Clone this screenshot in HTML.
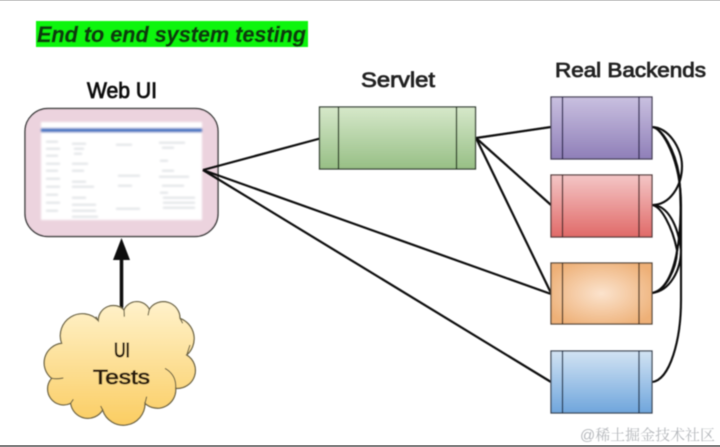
<!DOCTYPE html>
<html>
<head>
<meta charset="utf-8">
<style>
html,body{margin:0;padding:0;background:#fff;width:720px;height:447px;overflow:hidden}
svg{display:block}
text{font-family:"Liberation Sans","Noto Sans CJK SC",sans-serif}
</style>
</head>
<body>
<svg width="720" height="447" viewBox="0 0 720 447" xmlns="http://www.w3.org/2000/svg">
<defs>
<filter id="b1" x="-5%" y="-5%" width="110%" height="110%"><feGaussianBlur stdDeviation="0.55"/></filter>
<filter id="b2" x="-5%" y="-20%" width="110%" height="140%"><feGaussianBlur stdDeviation="0.6"/></filter>
<filter id="b3" x="-5%" y="-5%" width="110%" height="110%"><feGaussianBlur stdDeviation="1"/></filter>
<linearGradient id="gG" x1="0" y1="0" x2="0" y2="1"><stop offset="0" stop-color="#d6e8ca"/><stop offset="1" stop-color="#97bf85"/></linearGradient>
<linearGradient id="gP" x1="0" y1="0" x2="0" y2="1"><stop offset="0" stop-color="#c9c0e0"/><stop offset="1" stop-color="#8f7fb8"/></linearGradient>
<linearGradient id="gR" x1="0" y1="0" x2="0" y2="1"><stop offset="0" stop-color="#f4c6c6"/><stop offset="1" stop-color="#e06a68"/></linearGradient>
<radialGradient id="gO" cx="0.5" cy="0.5" r="0.6"><stop offset="0" stop-color="#fbe3cd"/><stop offset="1" stop-color="#eeb077"/></radialGradient>
<linearGradient id="gB" x1="0" y1="0" x2="0" y2="1"><stop offset="0" stop-color="#d2e3f3"/><stop offset="1" stop-color="#6fa5dc"/></linearGradient>
<linearGradient id="gY" x1="0" y1="0" x2="0" y2="1"><stop offset="0" stop-color="#fff2cb"/><stop offset="1" stop-color="#fbcd62"/></linearGradient>
</defs>

<rect x="0" y="0" width="720" height="1" fill="#c8c8c8"/>
<rect x="0" y="445" width="720" height="2" fill="#808080"/>

<g filter="url(#b1)">
<!-- Title -->
<rect x="36" y="21" width="272" height="26" fill="#0cf50c"/>
<text x="37" y="42" font-size="22" font-weight="bold" font-style="italic" fill="#0a3d10" stroke="#0a3d10" stroke-width="0.5" textLength="269" lengthAdjust="spacingAndGlyphs">End to end system testing</text>

<!-- Web UI -->
<text x="87" y="98" font-size="22" fill="#111" stroke="#111" stroke-width="0.8" textLength="70" lengthAdjust="spacingAndGlyphs">Web UI</text>
<rect x="25" y="108.500" width="193" height="128" rx="23" fill="#ecd3de" stroke="#444" stroke-width="1.500"/>
</g>

<g filter="url(#b3)">
<rect x="41" y="122" width="161" height="98" fill="#fff"/>
<rect x="41" y="128" width="161" height="4.500" fill="#4f79c4"/>
<g fill="#d4d8dd">
<rect x="46" y="141" width="12" height="1.500"/><rect x="46" y="148" width="14" height="1.500"/><rect x="46" y="155" width="12" height="1.500"/>
<rect x="46" y="163" width="14" height="1.500"/><rect x="46" y="170" width="12" height="1.500"/><rect x="46" y="178" width="14" height="1.500"/>
<rect x="46" y="186" width="14" height="1.500"/><rect x="46" y="194" width="12" height="1.500"/><rect x="46" y="202" width="14" height="1.500"/><rect x="46" y="210" width="12" height="1.500"/>
<rect x="72" y="143" width="14" height="1.500"/><rect x="74" y="148" width="10" height="1.500"/><rect x="74" y="153" width="8" height="1.500"/>
<rect x="72" y="163" width="16" height="1.500"/><rect x="72" y="170" width="12" height="1.500"/><rect x="72" y="181" width="14" height="1.500"/>
<rect x="72" y="186" width="22" height="1.500"/><rect x="72" y="197" width="14" height="1.500"/><rect x="72" y="204" width="24" height="1.500"/><rect x="72" y="210" width="24" height="1.500"/><rect x="72" y="216" width="26" height="1.500"/>
<rect x="116" y="144" width="16" height="1.500"/><rect x="118" y="175" width="22" height="1.500"/><rect x="118" y="185" width="14" height="1.500"/><rect x="116" y="208" width="24" height="1.500"/>
<rect x="159" y="142" width="26" height="1.500"/><rect x="162" y="147" width="12" height="1.500"/><rect x="160" y="160" width="8" height="1.500"/><rect x="162" y="170" width="12" height="1.500"/>
<rect x="159" y="176" width="30" height="1.500"/><rect x="162" y="185" width="22" height="1.500"/><rect x="160" y="192" width="8" height="1.500"/><rect x="163" y="197" width="32" height="1.500"/><rect x="163" y="202" width="32" height="1.500"/><rect x="163" y="207" width="32" height="1.500"/>
</g>
</g>

<g filter="url(#b1)">
<!-- Connectors -->
<g fill="none" stroke="#0c0c0c" stroke-width="2.200">
<path d="M203 170 L320 138.500"/>
<path d="M203 170 L551 294"/>
<path d="M203 170 L551 382"/>
<path d="M476 138 L551 127"/>
<path d="M476 138 L551 205"/>
<path d="M476 138 L551 293"/>
</g>
<g fill="none" stroke="#0c0c0c" stroke-width="2.100">
<path d="M652 127 C668 127 682 148 682 166 C682 186 670 205 652 205"/>
<path d="M652 127 C662 128 675 150 679 175 C684 225 678 288 652 293"/>
<path d="M652 127 C662 127 681 160 681 205 L681 300 C681 340 670 380 652 382"/>
<path d="M652 205 C668 205 678 226 681 250 C681 270 670 291 652 293"/>
<path d="M652 205 C661 206 672 226 677 250 C677 268 665 292 652 293"/>
</g>

<!-- Arrow -->
<path d="M121.500 308 L121.500 256" stroke="#0c0c0c" stroke-width="3.500" fill="none"/>
<path d="M121.500 238 L113 260 L130 260 Z" fill="#0c0c0c"/>

<!-- Servlet -->
<text x="361" y="87" font-size="21" fill="#222" stroke="#222" stroke-width="0.800" textLength="74" lengthAdjust="spacingAndGlyphs">Servlet</text>
<rect x="319.500" y="107" width="156" height="62" fill="url(#gG)" stroke="#333c30" stroke-width="1.300"/>
<path d="M338.500 107 V169 M456.500 107 V169" stroke="#24351f" stroke-width="1.300"/>

<!-- Backends -->
<text x="555" y="77" font-size="20" fill="#222" stroke="#222" stroke-width="0.800" textLength="151" lengthAdjust="spacingAndGlyphs">Real Backends</text>

<rect x="551" y="97" width="101" height="62" fill="url(#gP)" stroke="#453f55" stroke-width="1.300"/>
<path d="M562.500 97 V159 M639 97 V159" stroke="#2c2650" stroke-width="1.300"/>

<rect x="551" y="175" width="101" height="62" fill="url(#gR)" stroke="#553c3c" stroke-width="1.300"/>
<path d="M562.500 175 V237 M639 175 V237" stroke="#4a2a2a" stroke-width="1.300"/>

<rect x="551" y="263" width="101" height="61" fill="url(#gO)" stroke="#574a3c" stroke-width="1.300"/>
<path d="M562.500 263 V324 M639 263 V324" stroke="#4a3524" stroke-width="1.300"/>

<rect x="551" y="351" width="101" height="62" fill="url(#gB)" stroke="#3c4655" stroke-width="1.300"/>
<path d="M562.500 351 V413 M639 351 V413" stroke="#20364f" stroke-width="1.300"/>

<!-- Cloud -->
<g transform="translate(30 230) scale(0.33333)">
<path d="M95 340 A66 66 0 0 1 205 272 A45 45 0 0 1 282 240 A42 42 0 0 1 358 238 A50 50 0 0 1 450 265 A65 65 0 0 1 470 375 A54 54 0 0 1 437 475 A55 55 0 0 1 345 520 A65 65 0 0 1 218 540 A52 52 0 0 1 122 520 A48 48 0 0 1 65 445 A59 59 0 0 1 95 340 Z" fill="url(#gY)" stroke="#6d6545" stroke-width="4"/>
<path d="M405 415 Q440 435 437 475 M65 445 Q85 448 100 444 M205 272 Q200 265 198 260 M282 240 L283 260 M358 238 L354 256 M450 265 L458 280 M470 375 L480 345 M345 520 L350 500 M218 540 L212 528 M122 520 L130 508" fill="none" stroke="#6d6545" stroke-width="3.500"/>
</g>
<text x="114" y="357" font-size="20" fill="#2a1c08" stroke="#2a1c08" stroke-width="0.900" textLength="16" lengthAdjust="spacingAndGlyphs">UI</text>
<text x="93" y="384" font-size="20" fill="#2a1c08" stroke="#2a1c08" stroke-width="0.800" textLength="57" lengthAdjust="spacingAndGlyphs">Tests</text>
</g>

<!-- Watermark -->
<text x="580" y="440" font-size="15" fill="#b5b8bc" filter="url(#b2)" style="font-family:'Liberation Sans','Noto Serif CJK SC',serif" textLength="135" lengthAdjust="spacingAndGlyphs">@稀土掘金技术社区</text>
</svg>
</body>
</html>
